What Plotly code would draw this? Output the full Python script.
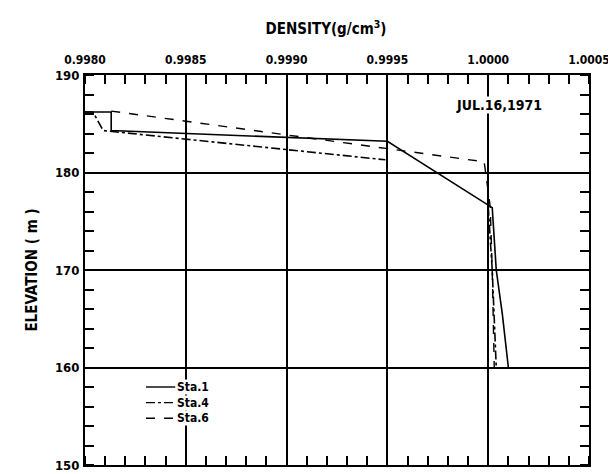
import plotly.graph_objects as go

# density (g/cm3) vs elevation (m)
sta1_density = [0.99800, 0.99813, 0.99813, 0.99950, 1.00002, 1.00004, 1.00007, 1.00010]
sta1_elev = [186.2, 186.2, 184.3, 183.2, 176.4, 170.0, 165.5, 160.0]

sta4_density = [0.99800, 0.99804, 0.99809, 0.99949, None, 1.00000, 1.00002, 1.00004]
sta4_elev = [186.2, 186.2, 184.3, 181.3, None, 176.5, 170.0, 160.0]

sta6_density = [0.99813, 0.99998, 1.00001, 1.00002, 1.00003]
sta6_elev = [186.3, 181.1, 176.5, 170.0, 160.0]

x_ticks = [0.9980, 0.9985, 0.9990, 0.9995, 1.0000, 1.0005]
x_labels = ["0.9980", "0.9985", "0.9990", "0.9995", "1.0000", "1.0005"]
y_ticks = [150, 160, 170, 180, 190]

legend_names = ["Sta.1", "Sta.4", "Sta.6"]
legend_dash = ["solid", "dashdot", "dash"]
legend_rows = [0.200, 0.160, 0.120]

FONT = "DejaVu Sans Condensed, Liberation Sans Narrow, Arial Narrow, sans-serif"

fig = go.Figure()
fig.add_trace(go.Scatter(x=sta1_density, y=sta1_elev, mode="lines", name="Sta.1",
                         line=dict(color="black", width=1.6)))
fig.add_trace(go.Scatter(x=sta4_density, y=sta4_elev, mode="lines", name="Sta.4",
                         line=dict(color="black", width=1.6, dash="dashdot")))
fig.add_trace(go.Scatter(x=sta6_density, y=sta6_elev, mode="lines", name="Sta.6",
                         line=dict(color="black", width=1.4, dash="dash")))

# hand-drawn style legend, tightly stacked
for nm, ds, yy in zip(legend_names, legend_dash, legend_rows):
    fig.add_shape(type="line", xref="paper", yref="paper",
                  x0=0.121, x1=0.179, y0=yy, y1=yy,
                  line=dict(color="black", width=1.4, dash=ds))
    fig.add_annotation(xref="paper", yref="paper", x=0.181, y=yy,
                       xanchor="left", yanchor="middle",
                       text="<b>%s</b>" % nm, showarrow=False, bgcolor="white",
                       borderpad=0, font=dict(size=12, color="black", family=FONT))

fig.add_annotation(x=1.000055, y=186.9, text="<b>JUL.16,1971</b>", showarrow=False,
                   bgcolor="white", borderpad=0,
                   font=dict(size=14, color="black", family=FONT))

fig.update_layout(
    width=616, height=474,
    margin=dict(l=77, r=35, t=67, b=9),
    paper_bgcolor="white", plot_bgcolor="white",
    font=dict(family=FONT, color="black", size=13),
    showlegend=False,
    title=dict(text="<b>DENSITY(g/cm<sup>3</sup>)</b>", x=318 / 616, xanchor="center",
               y=1 - 21 / 474, yanchor="middle", font=dict(size=15, family=FONT)),
    xaxis=dict(
        side="top", range=[0.9980, 1.0005],
        tickvals=x_ticks, ticktext=["<b>%s</b>" % s for s in x_labels],
        tickfont=dict(size=12),
        ticks="", showgrid=True, gridcolor="black", gridwidth=2,
        showline=True, linecolor="black", linewidth=2, mirror="ticks",
        zeroline=False, ticklabelstandoff=4,
        minor=dict(dtick=0.0001, tick0=0.9980, ticks="inside", ticklen=9,
                   tickwidth=2, tickcolor="black", showgrid=False),
    ),
    yaxis=dict(
        range=[150, 190], tickvals=y_ticks,
        ticktext=["<b>%d</b>" % v for v in y_ticks],
        ticks="", showgrid=True, gridcolor="black", gridwidth=2,
        showline=True, linecolor="black", linewidth=2, mirror="ticks",
        zeroline=False, ticklabelstandoff=1,
        minor=dict(dtick=2, tick0=150, ticks="inside", ticklen=9,
                   tickwidth=2, tickcolor="black", showgrid=False),
        title=dict(text="<b>ELEVATION ( m )</b>", font=dict(size=15), standoff=14),
    ),
)

fig.write_html("out.html")
